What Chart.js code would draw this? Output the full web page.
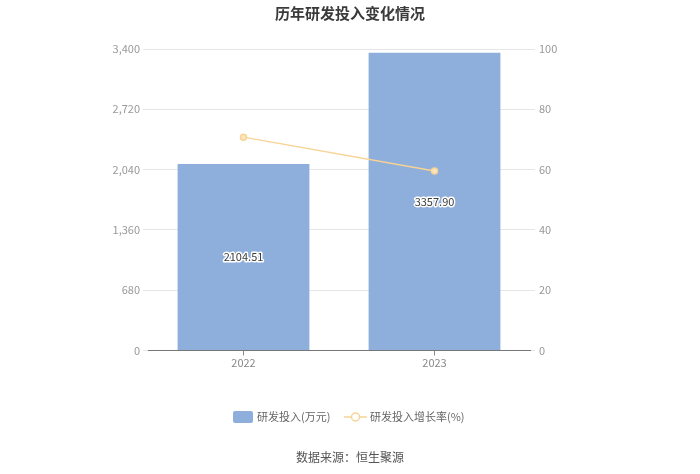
<!DOCTYPE html>
<html>
<head>
<meta charset="utf-8">
<script src="https://cdn.jsdelivr.net/npm/chart.js@4"></script>
<style>
  html, body { margin: 0; padding: 0; background: #fff; }
  #wrap { width: 700px; height: 474px; position: relative; }
</style>
</head>
<body>
<div id="wrap"><canvas id="chart" width="700" height="474"></canvas></div>
<script>
const years = ['2022', '2023'];
const rdInvest = [2104.51, 3357.90];   // 万元
const rdGrowth = [70.77, 59.56];      // %
const leftTicks = [0, 680, 1360, 2040, 2720, 3400];
const rightTicks = [0, 20, 40, 60, 80, 100];

const titleText = '历年研发投入变化情况';
const sourceText = '数据来源：恒生聚源';
const barLabel = '研发投入(万元)';
const lineLabel = '研发投入增长率(%)';

const FONT = "'Noto Sans CJK SC', 'Noto Sans', sans-serif";
const barColor = '#8eaedb';
const lineColor = '#f8d396';

// Title, legend and source text
const decorPlugin = {
  id: 'decor',
  afterDraw(chart) {
    const ctx = chart.ctx;
    ctx.save();
    ctx.textBaseline = 'middle';

    ctx.fillStyle = '#3a3a3a';
    ctx.font = 'bold 15px ' + FONT;
    ctx.textAlign = 'center';
    ctx.fillText(titleText, 350, 13);

    ctx.font = '12px ' + FONT;
    ctx.fillStyle = '#555';
    ctx.fillText(sourceText, 350, 457);

    // legend
    ctx.textAlign = 'left';
    ctx.font = '11px ' + FONT;
    ctx.fillStyle = barColor;
    ctx.beginPath();
    ctx.roundRect(233, 411, 20, 12, 2);
    ctx.fill();
    ctx.fillStyle = '#666';
    ctx.fillText(barLabel, 257, 417);

    ctx.strokeStyle = lineColor;
    ctx.lineWidth = 1.5;
    ctx.beginPath();
    ctx.moveTo(344, 417);
    ctx.lineTo(367, 417);
    ctx.stroke();
    ctx.beginPath();
    ctx.arc(355.5, 417, 4, 0, Math.PI * 2);
    ctx.fillStyle = '#fff';
    ctx.fill();
    ctx.stroke();
    ctx.fillStyle = '#666';
    ctx.fillText(lineLabel, 370, 417);
    ctx.restore();
  }
};

// Value labels in the middle of each bar
const barValuePlugin = {
  id: 'barValues',
  afterDatasetsDraw(chart) {
    const ctx = chart.ctx;
    const meta = chart.getDatasetMeta(1);
    ctx.save();
    ctx.font = '11px ' + FONT;
    ctx.textAlign = 'center';
    ctx.textBaseline = 'middle';
    ctx.lineJoin = 'round';
    meta.data.forEach((bar, i) => {
      const txt = rdInvest[i].toFixed(2);
      const y = (bar.y + bar.base) / 2;
      ctx.strokeStyle = '#fff';
      ctx.lineWidth = 3;
      ctx.strokeText(txt, bar.x, y);
      ctx.fillStyle = '#3c3c3c';
      ctx.fillText(txt, bar.x, y);
    });
    ctx.restore();
  }
};

new Chart(document.getElementById('chart'), {
  type: 'bar',
  data: {
    labels: years,
    datasets: [
      {
        type: 'line',
        label: lineLabel,
        data: rdGrowth,
        yAxisID: 'y1',
        borderColor: lineColor,
        borderWidth: 1.5,
        backgroundColor: '#fbe6bd',
        pointBorderColor: lineColor,
        pointRadius: 3,
        pointBorderWidth: 1.5,
        order: 0
      },
      {
        type: 'bar',
        label: barLabel,
        data: rdInvest,
        yAxisID: 'y',
        backgroundColor: barColor,
        barPercentage: 0.69,
        categoryPercentage: 1,
        order: 1
      }
    ]
  },
  options: {
    responsive: false,
    animation: false,
    layout: { padding: { top: 49, left: 0, right: 0, bottom: 0 } },
    plugins: {
      legend: { display: false },
      title: { display: false },
      tooltip: { enabled: false }
    },
    scales: {
      x: {
        afterFit(scale) { scale.height = 123.5; },
        grid: { display: true, drawOnChartArea: false, offset: false, tickLength: 5, color: '#888' },
        border: { display: true, color: '#777' },
        ticks: { color: '#888', font: { size: 11, family: FONT }, padding: 1 }
      },
      y: {
        position: 'left',
        min: 0,
        max: 3400,
        afterFit(scale) { scale.width = 148; },
        afterBuildTicks(scale) { scale.ticks = leftTicks.map(v => ({ value: v })); },
        grid: { color: '#e6e6e6', tickLength: 5 },
        border: { display: false },
        ticks: { color: '#999', font: { size: 11, family: FONT }, padding: 3 }
      },
      y1: {
        position: 'right',
        min: 0,
        max: 100,
        afterFit(scale) { scale.width = 170; },
        afterBuildTicks(scale) { scale.ticks = rightTicks.map(v => ({ value: v })); },
        grid: { drawOnChartArea: false, color: '#e6e6e6', tickLength: 5 },
        border: { display: false },
        ticks: { color: '#999', font: { size: 11, family: FONT }, padding: 4 }
      }
    }
  },
  plugins: [barValuePlugin, decorPlugin]
});
</script>
</body>
</html>
